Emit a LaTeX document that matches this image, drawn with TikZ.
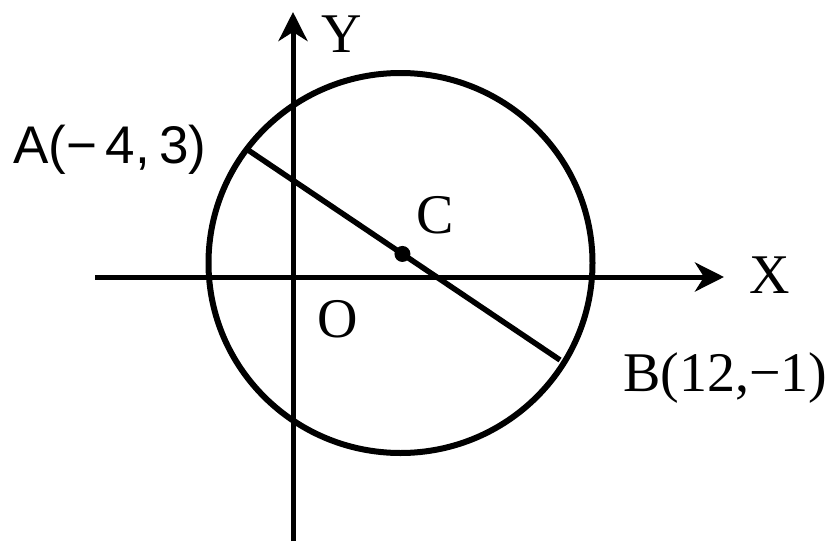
\documentclass[tikz,border=0pt]{standalone}
\usepackage{fontspec}
\setmainfont{Liberation Serif}
\newfontfamily\labsans{Liberation Sans}
\usetikzlibrary{arrows.meta,calc}
\begin{document}
\begin{tikzpicture}[x=1pt,y=-1pt,
  axis/.style={line width=5pt,-{Stealth[length=29pt,width=29pt,inset=9pt]}},
  lab/.style={inner sep=0pt,font=\fontsize{56}{60}\selectfont},
  curve/.style={line width=6pt}]
\useasboundingbox (0,0) rectangle (830,541);
\coordinate (xs) at (95,277);
\coordinate (xe) at (724,277);
\coordinate (ys) at (293,541);
\coordinate (ye) at (293,12);
\draw[axis] (xs) -- (xe);
\draw[axis] (ys) -- (ye);
\coordinate (cc) at (400.5,263);
\draw[curve] (cc) ellipse [x radius=192, y radius=190];
\coordinate (A) at (248,150);
\coordinate (B) at (560,360);
\draw[curve,line width=5.5pt] (A) -- (B);
\fill ($(A)!0.495!(B)$) circle (8);
\node[lab,anchor=base west,font=\fontsize{53}{60}\selectfont\labsans] (la) at (13,163) {A(−\,4,\,3)};
\node[lab,anchor=base west] (lb) at (623,391) {B(12,−1)};
\node[lab] (ly) at (342,34) {Y};
\node[lab] (lx) at (770,275) {X};
\node[lab] (lo) at (338,319) {O};
\node[lab] (lc) at (435,215) {C};
\end{tikzpicture}
\end{document}
